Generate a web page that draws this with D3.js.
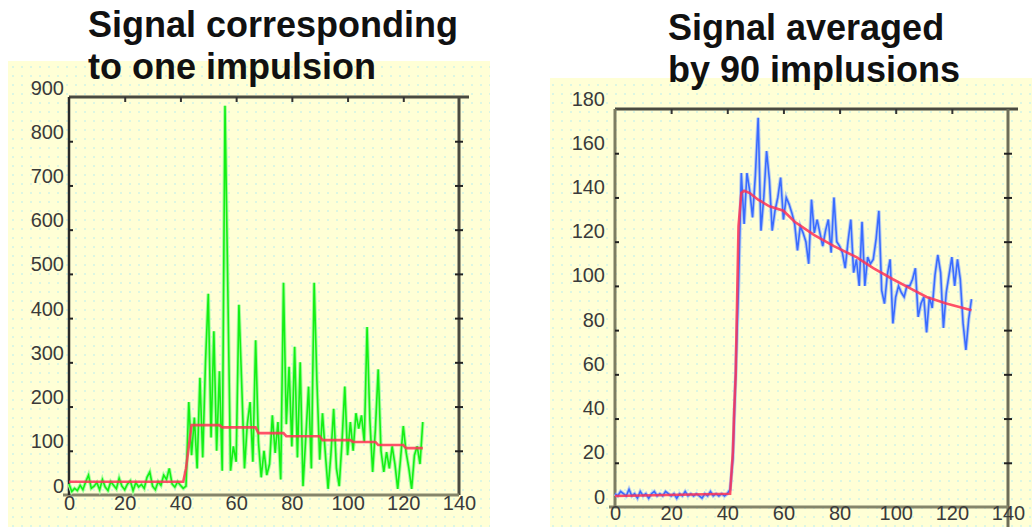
<!DOCTYPE html>
<html><head><meta charset="utf-8">
<script src="https://cdn.jsdelivr.net/npm/d3@7"></script>
<style>body{margin:0;background:#fff}svg{display:block}</style>
</head><body><svg id="c" width="1032" height="527"></svg>
<script>
// ---------- data ----------
const xTicks = [0, 20, 40, 60, 80, 100, 120, 140];
const leftYTicks = [0, 100, 200, 300, 400, 500, 600, 700, 800, 900];
const rightYTicks = [0, 20, 40, 60, 80, 100, 120, 140, 160, 180];
const leftTitle = ["Signal corresponding", "to one impulsion"];
const rightTitle = ["Signal averaged", "by 90 implusions"];

// single impulsion signal (index 0..127)
const greenSignal = [
  25, 8, 15, 10, 22, 12, 30, 45, 15, 20,
  28, 12, 35, 18, 10, 30, 22, 14, 38, 20,
  12, 25, 32, 10, 28, 18, 24, 15, 40, 52,
  20, 12, 30, 22, 45, 35, 60, 25, 18, 30,
  22, 15, 20, 210, 90, 175, 60, 265, 85, 300,
  455, 130, 370, 100, 280, 55, 880, 470, 55, 110,
  75, 430, 250, 60, 160, 210, 75, 350, 120, 40,
  100, 45, 70, 180, 95, 165, 35, 480, 160, 290,
  110, 335, 85, 300, 20, 130, 245, 60, 480, 255,
  80, 185, 95, 14, 90, 195, 60, 20, 120, 245,
  90, 165, 100, 185, 150, 180, 120, 380, 170, 52,
  150, 284, 100, 52, 97, 60, 110, 70, 14, 80,
  156, 97, 60, 14, 90, 110, 70, 165
];
// fitted step curve on single impulsion
const redLeftX = [0, 41, 42, 43, 44, 54, 55, 67, 68, 77, 78, 90, 91, 101, 102, 110, 111, 120, 121, 127];
const redLeftY = [30, 30, 60, 110, 158, 158, 153, 153, 140, 140, 133, 133, 124, 124, 120, 120, 113, 113, 106, 106];

// averaged signal (index 0..127)
const blueSignal = [
  6, 5, 7, 6, 5, 8, 5, 6, 4, 7,
  5, 6, 4, 6, 7, 5, 6, 5, 7, 6,
  5, 6, 4, 6, 5, 7, 5, 6, 5, 6,
  5, 4, 6, 5, 7, 5, 6, 5, 6, 5,
  6, 8, 22, 60, 100, 151, 128, 151, 143, 131,
  150, 176, 125, 140, 161, 148, 125, 134, 140, 149,
  130, 140, 137, 133, 128, 116, 127, 124, 120, 110,
  139, 124, 130, 124, 118, 125, 130, 115, 140, 120,
  118, 115, 108, 120, 130, 106, 112, 100, 129, 100,
  113, 110, 112, 121, 134, 98, 92, 105, 112, 83,
  95, 100, 97, 95, 100, 100, 103, 108, 86, 92,
  95, 79, 95, 90, 105, 114, 106, 81, 97, 105,
  113, 100, 112, 103, 83, 71, 85, 94
];
const redRightX = [0, 41, 42, 42.5, 43, 44, 45, 46, 48, 51, 55, 60, 64, 71, 78, 86, 92, 99, 105, 111, 118, 124, 127];
const redRightY = [5, 6, 25, 45, 60, 127, 142, 143, 142, 139, 136, 134, 129, 123, 118, 113, 108, 103, 99, 95, 92, 90, 89];

// ---------- drawing ----------
const svg = d3.select("#c");
const defs = svg.append("defs");
const pat = defs.append("pattern").attr("id", "dots")
  .attr("patternUnits", "userSpaceOnUse").attr("width", 9).attr("height", 9);
pat.append("rect").attr("width", 9).attr("height", 9).attr("fill", "#ffffd6");
pat.append("rect").attr("x", 3).attr("y", 3).attr("width", 2).attr("height", 2).attr("fill", "#dcf6e2");

const FONT = "'Liberation Sans', Arial, sans-serif";

function panel(cfg) {
  const g = svg.append("g");
  g.append("rect").attr("x", cfg.px).attr("y", cfg.py).attr("width", cfg.pw).attr("height", cfg.ph)
    .attr("fill", "url(#dots)");

  const x = d3.scaleLinear().domain([0, 140]).range([cfg.x0, cfg.x1]);
  const y = d3.scaleLinear().domain([0, cfg.ymax]).range([cfg.yb, cfg.yt]);

  // frame
  g.append("line").attr("x1", cfg.x0).attr("x2", cfg.x1 + 10).attr("y1", cfg.yt).attr("y2", cfg.yt)
    .attr("stroke", "#4a4a40").attr("stroke-width", 3);
  g.append("line").attr("x1", cfg.x1).attr("x2", cfg.x1).attr("y1", cfg.yt).attr("y2", cfg.rightBottom)
    .attr("stroke", cfg.sideColor).attr("stroke-width", 3);
  g.append("line").attr("x1", cfg.x0 - 6).attr("x2", cfg.x1).attr("y1", cfg.yb).attr("y2", cfg.yb)
    .attr("stroke", "#85856a").attr("stroke-width", 3);
  g.append("line").attr("x1", cfg.x0).attr("x2", cfg.x0).attr("y1", cfg.yt).attr("y2", cfg.yb)
    .attr("stroke", cfg.leftColor).attr("stroke-width", cfg.leftWidth);

  // axes
  const ya = g.append("g").attr("transform", `translate(${cfg.x0},0)`)
    .call(d3.axisLeft(y).tickValues(cfg.yTicks).tickSize(-4).tickPadding(5));
  ya.select(".domain").remove();
  ya.selectAll("line").attr("stroke", "#222").attr("stroke-width", 2)
    .attr("opacity", d => (d === 0 || d === cfg.ymax) ? 0 : 1);
  ya.selectAll("text").attr("dy", cfg.labelDy).attr("x", cfg.yLabelX - cfg.x0)
    .style("font-family", FONT).style("font-size", "20px").attr("fill", "#3a3a3a");

  const ra = g.append("g").attr("transform", `translate(${cfg.x1},0)`)
    .call(d3.axisRight(y).tickValues(cfg.yTicks.filter(d => d > 0 && d < cfg.ymax)).tickSize(4).tickFormat(""));
  ra.select(".domain").remove();
  ra.selectAll("line").attr("x1", -4).attr("stroke", "#222").attr("stroke-width", 2);

  const ta = g.append("g").attr("transform", `translate(0,${cfg.yt})`)
    .call(d3.axisBottom(x).tickValues(xTicks.filter(d => d > 0 && d < 140)).tickSize(5).tickFormat(""));
  ta.select(".domain").remove();
  ta.selectAll("line").attr("stroke", "#333").attr("stroke-width", 2);

  // series
  const line = d3.line().x((d, i) => x(i)).y(d => y(d));
  g.append("path").datum(cfg.signal).attr("d", line).attr("fill", "none")
    .attr("stroke", cfg.haloColor).attr("stroke-width", 3.6).attr("stroke-linejoin", "miter");
  g.append("path").datum(cfg.signal).attr("d", line).attr("fill", "none")
    .attr("stroke", cfg.signalColor).attr("stroke-width", cfg.signalWidth).attr("stroke-linejoin", "miter");
  const fitLine = d3.line().x(d => x(d[0])).y(d => y(d[1]));
  g.append("path").datum(d3.zip(cfg.fitX, cfg.fitY)).attr("d", fitLine).attr("fill", "none")
    .attr("stroke", "#ff3355").attr("stroke-width", 2.6).attr("stroke-opacity", 0.85);

  // bottom axis labels (drawn over the axis line, as in the reference)
  const xa = g.append("g").attr("transform", `translate(0,${cfg.yb})`)
    .call(d3.axisBottom(x).tickValues(xTicks).tickSize(0).tickPadding(cfg.xPad));
  xa.select(".domain").remove();
  xa.selectAll("text").style("font-family", FONT).style("font-size", "20px")
    .attr("fill", "#3a3a3a");

  // title
  const t = svg.append("text").attr("x", cfg.tx)
    .style("font-family", FONT).style("font-weight", "bold")
    .style("font-size", "36px").attr("fill", "#111");
  cfg.title.forEach((s, i) => t.append("tspan").attr("x", cfg.tx).attr("y", cfg.ty[i]).text(s));
}

panel({
  px: 8, py: 61, pw: 482, ph: 466,
  x0: 69, x1: 459, yt: 97, yb: 495, rightBottom: 495, ymax: 900,
  yTicks: leftYTicks, yLabelX: 64, labelDy: "-0.15em", xPad: 1,
  leftColor: "#2a2a2a", leftWidth: 2.5, sideColor: "#4a4a40",
  signal: greenSignal, signalColor: "#14f014", haloColor: "#a8fca0", signalWidth: 1.6,
  fitX: redLeftX, fitY: redLeftY,
  title: leftTitle, tx: 88, ty: [37, 79]
});
panel({
  px: 550, py: 78, pw: 482, ph: 449,
  x0: 615, x1: 1008, yt: 109, yb: 507, rightBottom: 527, ymax: 180,
  yTicks: rightYTicks, yLabelX: 605, labelDy: "-0.2em", xPad: -1,
  leftColor: "#7d7d62", leftWidth: 3, sideColor: "#6d6d58",
  signal: blueSignal, signalColor: "#3a6cff", haloColor: "#b9cdee", signalWidth: 1.6,
  fitX: redRightX, fitY: redRightY,
  title: rightTitle, tx: 668, ty: [40, 82]
});
</script></body></html>
